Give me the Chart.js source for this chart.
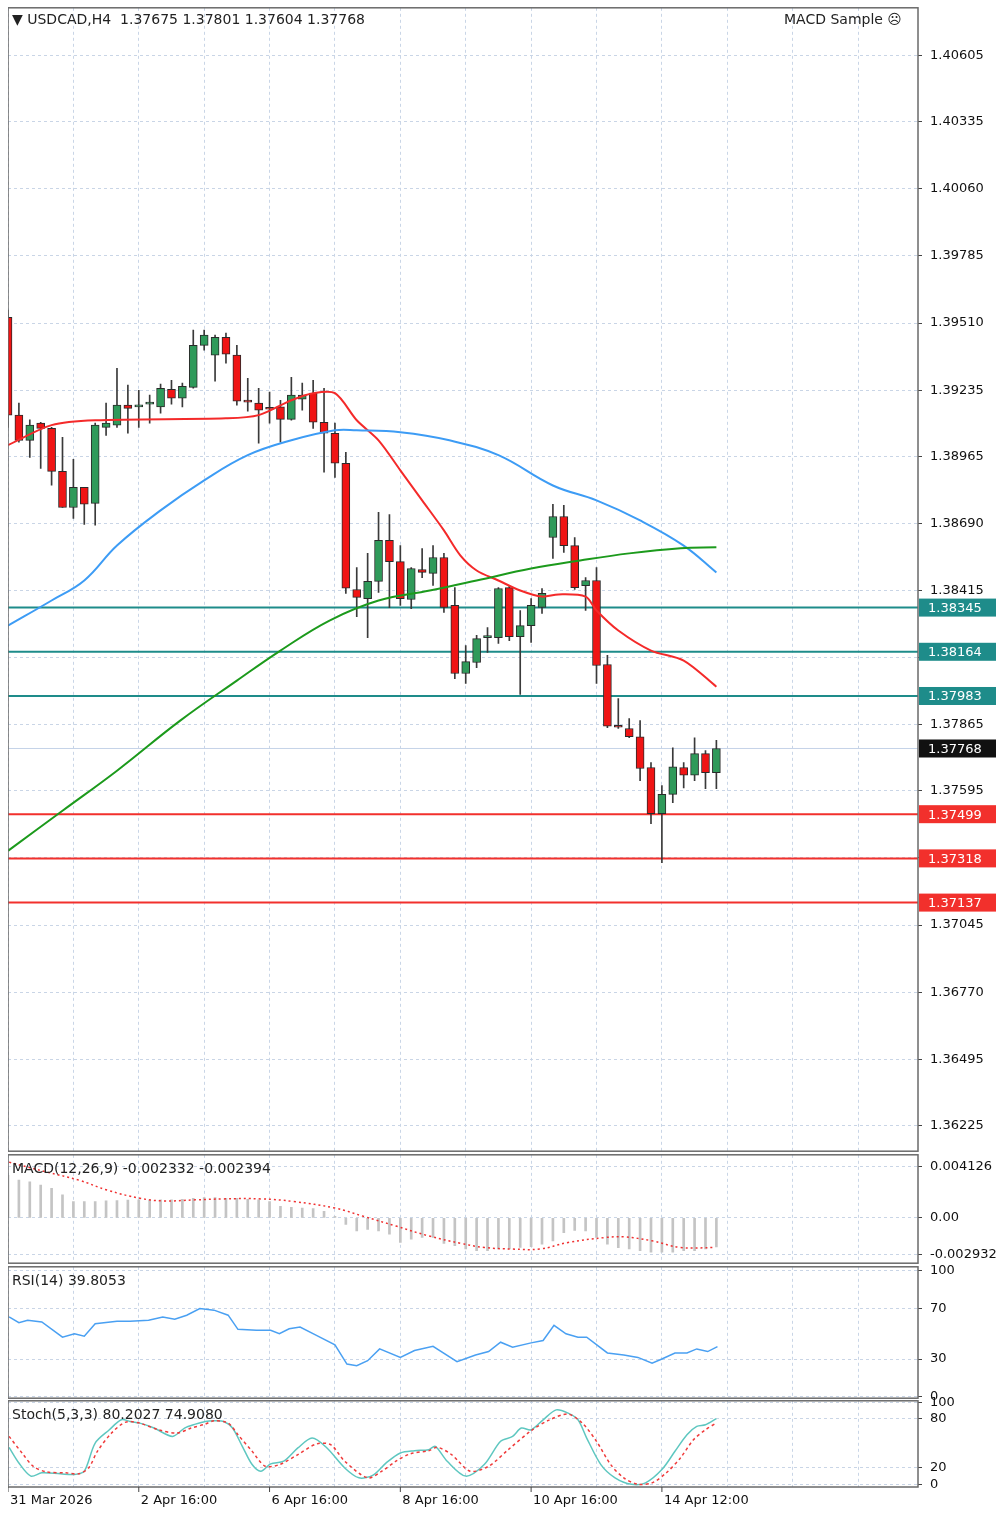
<!DOCTYPE html>
<html>
<head>
<meta charset="utf-8">
<script src="https://cdn.jsdelivr.net/npm/chart.js@4.4.1/dist/chart.umd.min.js"></script>
<style>
  body { margin: 0; width: 1000px; height: 1514px; background: #fff; position: relative; overflow: hidden; font-family: "DejaVu Sans", sans-serif; }
  canvas { position: absolute; left: 8px; }
  .lbl { position: absolute; font-size: 14px; color: #222; white-space: pre; }
</style>
</head>
<body>
<canvas id="main" style="top:-8px" width="992" height="1175"></canvas>
<canvas id="macd" style="top:1139px" width="992" height="140"></canvas>
<canvas id="rsi" style="top:1251px" width="992" height="163"></canvas>
<canvas id="stoch" style="top:1385px" width="992" height="129"></canvas>
<div class="lbl" style="left:12px;top:11px">▼ USDCAD,H4  1.37675 1.37801 1.37604 1.37768</div>
<div class="lbl" style="left:784px;top:11px">MACD Sample ☹</div>
<div class="lbl" style="left:12px;top:1160px">MACD(12,26,9) -0.002332 -0.002394</div>
<div class="lbl" style="left:12px;top:1272px">RSI(14) 39.8053</div>
<div class="lbl" style="left:12px;top:1406px">Stoch(5,3,3) 80.2027 74.9080</div>
<script>
// candles (H4), index 0 = first bar on screen
const opens = [1.39534,1.39133,1.39030,1.39100,1.39079,1.38903,1.38755,1.38837,1.38772,1.39083,1.39092,1.39174,1.39167,1.39178,1.39167,1.39239,1.39202,1.39247,1.39419,1.39379,1.39452,1.39379,1.39190,1.39182,1.39161,1.39167,1.39116,1.39198,1.39223,1.39104,1.39059,1.38936,1.38419,1.38382,1.38452,1.38620,1.38533,1.38378,1.38501,1.38485,1.38550,1.38354,1.38075,1.38120,1.38222,1.38222,1.38427,1.38226,1.38271,1.38346,1.38632,1.38718,1.38599,1.38435,1.38456,1.38112,1.37859,1.37850,1.37816,1.37690,1.37501,1.37580,1.37690,1.37659,1.37747,1.37669];
const highs = [1.39563,1.39182,1.39114,1.39104,1.39083,1.39042,1.38952,1.38837,1.39100,1.39182,1.39325,1.39256,1.39235,1.39215,1.39260,1.39276,1.39264,1.39481,1.39481,1.39461,1.39469,1.39419,1.39284,1.39243,1.39227,1.39194,1.39288,1.39264,1.39276,1.39243,1.39100,1.38981,1.38509,1.38567,1.38735,1.38726,1.38599,1.38509,1.38587,1.38599,1.38567,1.38427,1.38189,1.38231,1.38263,1.38427,1.38435,1.38333,1.38382,1.38423,1.38768,1.38764,1.38632,1.38468,1.38509,1.38149,1.37972,1.37890,1.37882,1.37710,1.37616,1.37771,1.37710,1.37812,1.37759,1.37801];
const lows = [1.39083,1.39022,1.38960,1.38915,1.38846,1.38755,1.38710,1.38686,1.38682,1.39050,1.39083,1.39059,1.39083,1.39100,1.39141,1.39178,1.39167,1.39243,1.39399,1.39272,1.39346,1.39174,1.39149,1.39018,1.39100,1.39022,1.39112,1.39153,1.39079,1.38899,1.38878,1.38403,1.38308,1.38222,1.38407,1.38345,1.38354,1.38341,1.38468,1.38436,1.38325,1.38054,1.38034,1.38099,1.38161,1.38198,1.38210,1.37989,1.38202,1.38321,1.38546,1.38571,1.38419,1.38333,1.38034,1.37853,1.37850,1.37812,1.37636,1.37460,1.37300,1.37546,1.37607,1.37636,1.37603,1.37604];
const closes = [1.39133,1.39030,1.39092,1.39079,1.38903,1.38755,1.38837,1.38768,1.39092,1.39100,1.39174,1.39161,1.39174,1.39180,1.39243,1.39202,1.39251,1.39419,1.39461,1.39452,1.39383,1.39190,1.39186,1.39153,1.39157,1.39116,1.39215,1.39215,1.39104,1.39059,1.38936,1.38424,1.38387,1.38452,1.38620,1.38533,1.38382,1.38505,1.38489,1.38550,1.38346,1.38075,1.38124,1.38218,1.38222,1.38423,1.38226,1.38271,1.38354,1.38403,1.38718,1.38599,1.38427,1.38456,1.38108,1.37859,1.37855,1.37816,1.37686,1.37501,1.37580,1.37693,1.37659,1.37747,1.37669,1.37768];

// moving averages read at bar positions [bar, price]
const fastMa = [[0,1.39010],[4,1.39092],[8,1.39112],[20,1.39120],[23,1.39133],[26,1.39194],[28,1.39223],[30,1.39223],[32,1.39112],[34,1.39030],[36,1.38907],[38,1.38784],[40,1.38661],[41.5,1.38559],[43,1.38497],[45,1.38456],[47,1.38415],[49,1.38390],[50.5,1.38399],[53,1.38390],[54,1.38333],[56,1.38251],[59,1.38169],[62,1.38128],[65,1.38021]];
const midMa = [[0,1.38271],[4,1.38374],[7,1.38456],[10,1.38599],[14,1.38743],[18,1.38866],[22,1.38969],[26,1.39030],[30,1.39071],[32,1.39071],[36,1.39063],[40.5,1.39030],[45,1.38969],[50,1.38845],[54,1.38784],[58,1.38702],[62,1.38599],[65,1.38489]];
const slowMa = [[0,1.37349],[5,1.37513],[10,1.37677],[15.8,1.37882],[21,1.38046],[25,1.38169],[29.5,1.38292],[34,1.38374],[38.7,1.38415],[43,1.38456],[48,1.38505],[52.5,1.38538],[57,1.38567],[61.7,1.38588],[65,1.38592]];

const tealLevels = [1.38345, 1.38164, 1.37983];
const redLevels = [1.37499, 1.37318, 1.37137];
const lastPrice = 1.37768;
const priceTicks = [1.40605,1.40335,1.40060,1.39785,1.39510,1.39235,1.38965,1.38690,1.38415,1.38140,1.37865,1.37595,1.37320,1.37045,1.36770,1.36495,1.36225];
const hiddenTicks = [1.38140, 1.37320];

const macdHist = [0.00343,0.00304,0.0029,0.00264,0.00238,0.00185,0.00132,0.00132,0.00132,0.00137,0.0014,0.00143,0.00145,0.00145,0.00145,0.00145,0.0015,0.00158,0.00164,0.00164,0.00158,0.00158,0.0015,0.00145,0.00132,0.00092,0.00084,0.00079,0.00074,0.00053,0.00013,-0.00053,-0.00106,-0.00092,-0.00106,-0.00132,-0.00198,-0.00172,-0.00158,-0.00158,-0.00206,-0.00224,-0.00251,-0.00264,-0.00264,-0.00251,-0.00251,-0.00238,-0.00232,-0.00211,-0.00185,-0.00119,-0.001,-0.00106,-0.00158,-0.00211,-0.0024,-0.00251,-0.00264,-0.00277,-0.00277,-0.00277,-0.00264,-0.00264,-0.00251,-0.00233];
const macdSignal = [[0.1,0.00449],[3.5,0.0037],[6.5,0.00304],[9.1,0.00224],[12.1,0.00158],[14.2,0.00137],[17.2,0.00145],[19.8,0.00153],[23.2,0.00153],[26.2,0.00132],[30,0.00079],[32.6,0.00013],[35.6,-0.00066],[38.6,-0.00145],[41.6,-0.00206],[43.7,-0.00238],[46.3,-0.00251],[48.8,-0.00251],[51.4,-0.00198],[54.8,-0.00158],[56.5,-0.00153],[59.1,-0.00185],[61.7,-0.00238],[64.9,-0.00239]];
const macdTicks = [0.004126, 0, -0.002932];

const rsi = [[0.1,63.3],[1,58.8],[1.8,60.7],[3.1,59.3],[5,47.3],[6.1,50],[7,48.1],[8,58],[10,59.9],[11.2,59.9],[12.9,60.7],[14.2,63.3],[15.3,61.5],[16.4,64.7],[17.6,70],[18.9,68.7],[20.2,64.7],[21.1,53.5],[22.8,52.7],[24.1,52.7],[24.9,50],[25.8,54],[26.8,55.3],[28.3,48.7],[30,41.2],[31.1,26],[32,24.7],[33,28.7],[34.1,38],[36,31.3],[37.3,36.7],[39,40.1],[41.2,27.9],[42.9,33.2],[44.1,35.9],[45.2,43.3],[46.3,39.3],[48,42.8],[49.1,44.7],[50.1,56.7],[51.2,50],[52.3,47.3],[53.1,47.3],[55,34.8],[56.5,33.2],[57.8,31.3],[59.1,26.8],[60,30],[61.2,34.8],[62.3,34.8],[63.2,38],[64.2,35.9],[65.1,39.8]];
const rsiTicks = [100, 70, 30, 0];

const stochMain = [[0.1,45.2],[1,26.1],[2.1,10],[3.1,14],[4.8,12.8],[6.1,12],[7,16],[8,50.4],[9.3,66.6],[10.4,78.8],[11.2,76.8],[12.1,74.7],[13.4,68.7],[15.1,58.5],[16.2,68.7],[17.2,73.5],[18.1,76.8],[18.9,77.6],[19.8,76.8],[20.6,68.7],[21.5,46.4],[22.4,24.1],[23.2,16],[24.1,24.9],[25.3,28.2],[26.6,44.4],[27.9,56.5],[29.2,45.2],[30.9,20],[32.2,7.9],[33.5,11.2],[34.7,26.1],[36,38.3],[37.3,41.1],[38.6,42.3],[39.2,46.4],[40.3,28.2],[42,10],[43.7,24.1],[45.2,52.5],[46.3,58.5],[47.1,68.7],[48,66.6],[49.1,78.8],[50.3,90.9],[51.4,86.9],[52.3,78.8],[53.1,56.5],[54.4,24.1],[55.7,7.9],[57.2,0],[58.5,1.8],[60,18],[61.2,40.3],[62.3,60.6],[63.2,70.7],[64,72.7],[65,80.2]];
const stochSignal = [[0.1,58.5],[1.4,36.3],[2.3,22.1],[3.5,15.2],[5.3,14],[6.5,12.8],[7.4,20],[8.2,40.3],[9.5,62.6],[10.8,76],[12.1,74.7],[13.8,66.6],[15.5,62.6],[16.8,68.7],[18.1,73.5],[18.9,77.6],[20.2,74.7],[21.1,60.6],[22.4,40.3],[23.6,22.1],[24.9,24.1],[26.6,36.3],[28.3,49.2],[29.6,48.4],[30.9,28.2],[33,7.9],[34.3,16],[35.6,28.2],[36.9,37.1],[38.6,41.1],[39.4,45.2],[40.7,36.3],[42.4,16],[44.1,22.1],[45.9,42.3],[48,65.4],[49.7,78.8],[51.4,85.7],[52.7,74.7],[54,52.5],[55.3,24.1],[56.5,7.9],[57.8,0],[59.1,1.8],[60.4,14],[61.7,32.2],[62.9,54.5],[64,66.6],[65,75]];
const stochTicks = [100, 80, 20, 0];

const timeLabels = { 0: "31 Mar 2026", 12: "2 Apr 16:00", 24: "6 Apr 16:00", 36: "8 Apr 16:00", 48: "10 Apr 16:00", 60: "14 Apr 12:00" };

const X_MAX = 83.5;
const GRID = "#c9d5e6";
const FONT = { family: "DejaVu Sans", size: 13 };

const pts = (arr) => arr.map(([x, y]) => ({ x, y }));
const flat = (v) => [{ x: 0, y: v }, { x: X_MAX, y: v }];

const framePlugin = {
  id: "frame",
  afterDraw(chart) {
    const { ctx, chartArea: a } = chart;
    ctx.save();
    ctx.strokeStyle = "#6a6a6a";
    ctx.lineWidth = 1.5;
    ctx.strokeRect(a.left, a.top, a.right - a.left, a.bottom - a.top);
    ctx.restore();
  },
};

function xScale() {
  return {
    type: "linear", min: 0, max: X_MAX, offset: false,
    afterBuildTicks: (s) => { s.ticks = []; for (let v = 0; v <= X_MAX; v += 6) s.ticks.push({ value: v }); },
    ticks: { display: false },
    grid: { color: GRID, drawTicks: false, offset: false },
    border: { display: false, dash: [3, 3] },
    afterFit: (s) => { s.height = 0; },
  };
}

function yScale(min, max, ticks, fmt) {
  return {
    position: "right", min, max,
    afterBuildTicks: (s) => { s.ticks = ticks.map((v) => ({ value: v })); },
    afterFit: (s) => { s.width = 82; },
    ticks: { color: "#111", font: FONT, padding: 8, callback: fmt },
    grid: { color: GRID, tickLength: 4, tickColor: "#444" },
    border: { display: false, dash: [3, 3] },
  };
}

const baseOpts = {
  responsive: false, animation: false, devicePixelRatio: 1,
  plugins: { legend: { display: false }, tooltip: { enabled: false } },
};

// main price panel
const levelBoxes = {
  id: "levelBoxes",
  afterDraw(chart) {
    const { ctx, chartArea: a, scales } = chart;
    const box = (v, bg, fg) => {
      const y = scales.y.getPixelForValue(v);
      ctx.fillStyle = bg;
      ctx.fillRect(a.right + 1, y - 9, 77, 18);
      ctx.fillStyle = fg;
      ctx.font = "13px DejaVu Sans";
      ctx.textBaseline = "middle";
      ctx.fillText(v.toFixed(5), a.right + 10, y + 1);
    };
    ctx.save();
    tealLevels.forEach((v) => box(v, "#1e8c8a", "#fff"));
    redLevels.forEach((v) => box(v, "#f2302c", "#fff"));
    box(lastPrice, "#111", "#fff");
    ctx.restore();
  },
};

new Chart(document.getElementById("main"), {
  type: "bar",
  data: {
    datasets: [
      ...tealLevels.map((v) => ({ type: "line", data: flat(v), borderColor: "#1e8c8a", borderWidth: 2, pointRadius: 0, order: 5 })),
      ...redLevels.map((v) => ({ type: "line", data: flat(v), borderColor: "#f2302c", borderWidth: 2, pointRadius: 0, order: 5 })),
      { type: "line", data: flat(lastPrice), borderColor: "#c5d3e8", borderWidth: 1, pointRadius: 0, order: 6 },
      { type: "line", data: pts(slowMa), borderColor: "#1c9a1c", borderWidth: 2, pointRadius: 0, tension: 0.4, order: 1 },
      { type: "line", data: pts(midMa), borderColor: "#3d9cf5", borderWidth: 2, pointRadius: 0, tension: 0.4, order: 1 },
      { type: "line", data: pts(fastMa), borderColor: "#f42a2a", borderWidth: 2, pointRadius: 0, tension: 0.3, order: 1 },
      {
        data: lows.map((l, i) => ({ x: i, y: [l, highs[i]] })),
        backgroundColor: "#3a3a3a", barThickness: 1, grouped: false, order: 3,
      },
      {
        data: opens.map((o, i) => ({ x: i, y: [o, closes[i]] })),
        backgroundColor: opens.map((o, i) => (closes[i] >= o ? "#2f9a5a" : "#f01414")),
        borderColor: "#2a2a2a", borderWidth: 1, borderSkipped: false,
        barThickness: 8, grouped: false, minBarLength: 2, order: 2,
      },
    ],
  },
  options: {
    ...baseOpts,
    scales: {
      x: xScale(),
      y: yScale(1.36119, 1.40801, priceTicks, (v) => (hiddenTicks.includes(v) ? "" : v.toFixed(5))),
    },
  },
  plugins: [framePlugin, levelBoxes],
});

// MACD panel
new Chart(document.getElementById("macd"), {
  type: "bar",
  data: {
    datasets: [
      { type: "line", data: pts(macdSignal), borderColor: "#f03030", borderWidth: 1.5, borderDash: [2, 3], pointRadius: 0, tension: 0.4, order: 1 },
      { data: macdHist.map((v, i) => ({ x: i, y: v })), backgroundColor: "#c4c4c4", barThickness: 2, order: 2 },
    ],
  },
  options: {
    ...baseOpts,
    scales: {
      x: xScale(),
      y: yScale(-0.00365, 0.00508, macdTicks, (v) => (v === 0 ? "0.00" : v.toFixed(6))),
    },
  },
  plugins: [framePlugin],
});

// RSI panel
new Chart(document.getElementById("rsi"), {
  type: "line",
  data: { datasets: [{ data: pts(rsi), borderColor: "#4aa0f2", borderWidth: 1.5, pointRadius: 0 }] },
  options: {
    ...baseOpts,
    scales: { x: xScale(), y: yScale(-1, 103, rsiTicks, (v) => String(v)) },
  },
  plugins: [framePlugin],
});

// Stochastic panel + time axis labels
const timeAxis = {
  id: "timeAxis",
  afterDraw(chart) {
    const { ctx, chartArea: a, scales } = chart;
    ctx.save();
    ctx.font = "13px DejaVu Sans";
    ctx.fillStyle = "#111";
    ctx.textBaseline = "top";
    ctx.strokeStyle = "#444";
    Object.entries(timeLabels).forEach(([k, t]) => {
      const x = scales.x.getPixelForValue(Number(k));
      ctx.beginPath(); ctx.moveTo(x, a.bottom); ctx.lineTo(x, a.bottom + 5); ctx.stroke();
      ctx.fillText(t, x + 2, a.bottom + 7);
    });
    ctx.restore();
  },
};

new Chart(document.getElementById("stoch"), {
  type: "line",
  data: {
    datasets: [
      { data: pts(stochSignal), borderColor: "#f03a3a", borderWidth: 1.5, borderDash: [3, 3], pointRadius: 0, tension: 0.3 },
      { data: pts(stochMain), borderColor: "#5ec7c0", borderWidth: 1.5, pointRadius: 0, tension: 0.3 },
    ],
  },
  options: {
    ...baseOpts,
    layout: { padding: { bottom: 27 } },
    scales: { x: xScale(), y: yScale(-3.3, 102, stochTicks, (v) => String(v)) },
  },
  plugins: [framePlugin, timeAxis],
});
</script>
</body>
</html>
